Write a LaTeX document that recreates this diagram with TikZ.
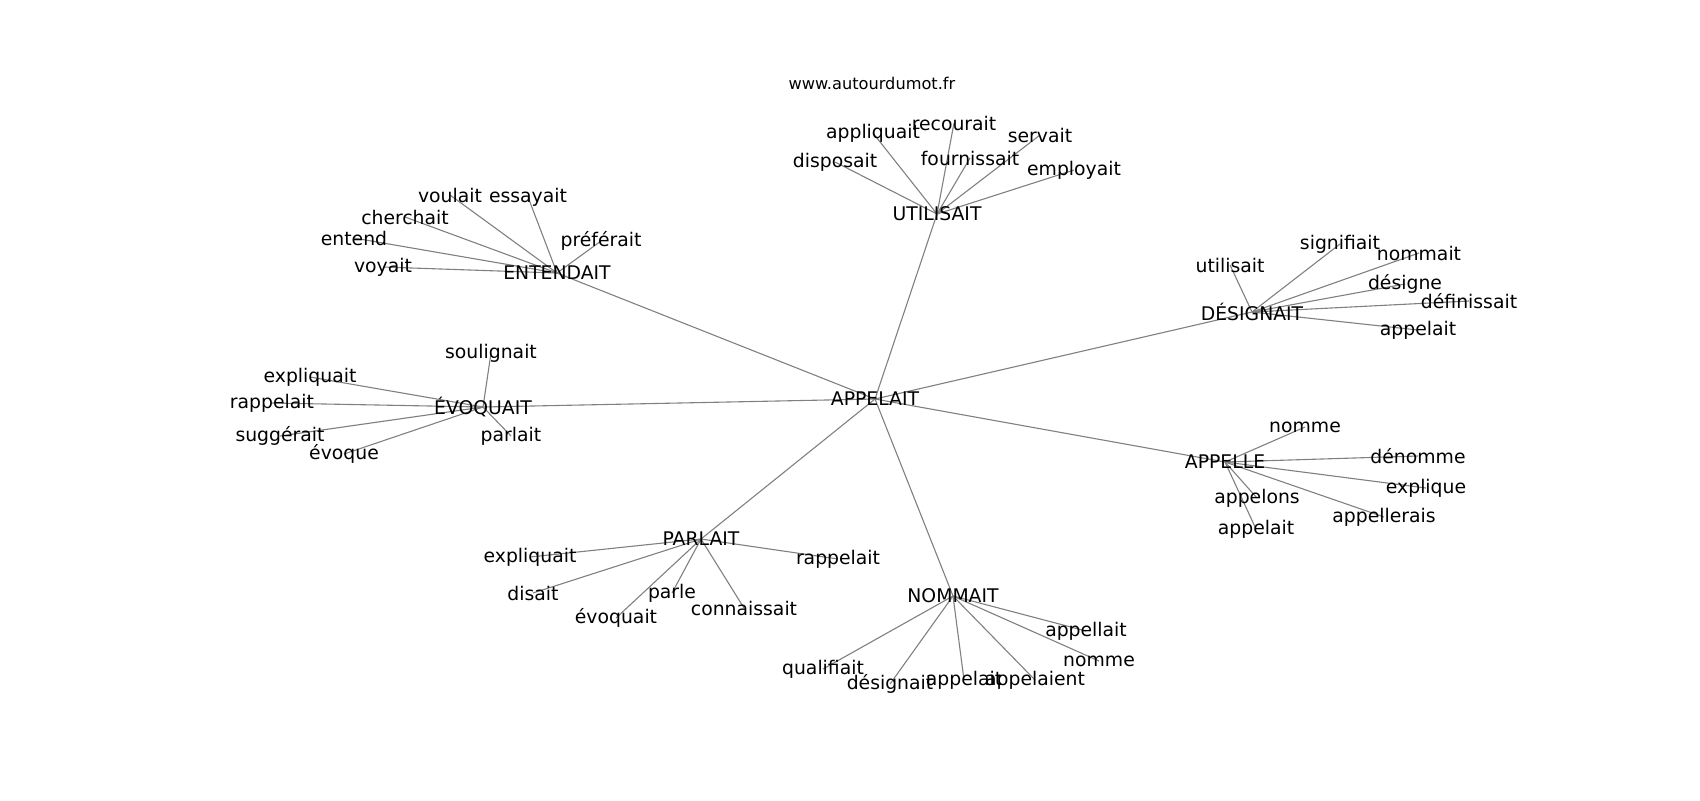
\documentclass[tikz,border=0pt]{standalone}
\usepackage{fontspec}
\setmainfont{DejaVu Sans}
\usetikzlibrary{backgrounds}

\begin{document}
\begin{tikzpicture}[x=0.5pt,y=-0.5pt]
\tikzstyle{every node}=[inner sep=0pt,text=black,font=\fontsize{9.4}{11}\selectfont]
\tikzstyle{link}=[draw=gray,line width=0.55pt]
\useasboundingbox (0,0) rectangle (1700,800);

\node (web) at (872,83) {\fontsize{8.1}{10}\selectfont www.autourdumot.fr};

% centre and hubs
\node (APP) at (875,399) {APPELAIT};
\node (UTI) at (937,214) {UTILISAIT};
\node (ENT) at (557,273) {ENTENDAIT};
\node (EVO) at (483,407) {ÉVOQUAIT};
\node (PAR) at (701,539) {PARLAIT};
\node (NOM) at (953,596) {NOMMAIT};
\node (APL) at (1225,462) {APPELLE};
\node (DES) at (1252,312) {DÉSIGNAIT};

% UTILISAIT
\node (uti1) at (873,133) {appliquait};
\node (uti2) at (954,123) {recourait};
\node (uti3) at (1040,135) {servait};
\node (uti4) at (970,158) {fournissait};
\node (uti5) at (835,162) {disposait};
\node (uti6) at (1074,170) {employait};

% ENTENDAIT
\node (ent1) at (450,195) {voulait};
\node (ent2) at (528,197) {essayait};
\node (ent3) at (405,217) {cherchait};
\node (ent4) at (354,238) {entend};
\node (ent5) at (383,267) {voyait};
\node (ent6) at (601,241) {préférait};

% EVOQUAIT
\node (evo1) at (491,353) {soulignait};
\node (evo2) at (310,377) {expliquait};
\node (evo3) at (272,403) {rappelait};
\node (evo4) at (280,436) {suggérait};
\node (evo5) at (344,454) {évoque};
\node (evo6) at (511,436) {parlait};

% PARLAIT
\node (par1) at (530,557) {expliquait};
\node (par2) at (838,559) {rappelait};
\node (par3) at (533,593) {disait};
\node (par4) at (672,593) {parle};
\node (par5) at (616,618) {évoquait};
\node (par6) at (744,608) {connaissait};

% NOMMAIT
\node (nom1) at (1086,631) {appellait};
\node (nom2) at (1099,661) {nomme};
\node (nom3) at (823,669) {qualifiait};
\node (nom4) at (890,684) {désignait};
\node (nom5) at (964,680) {appelait};
\node (nom6) at (1035,680) {appelaient};

% APPELLE
\node (apl1) at (1305,427) {nomme};
\node (apl2) at (1418,456) {dénomme};
\node (apl3) at (1426,488) {explique};
\node (apl4) at (1257,498) {appelons};
\node (apl5) at (1384,517) {appellerais};
\node (apl6) at (1256,529) {appelait};

% DESIGNAIT
\node (des1) at (1230,265) {utilisait};
\node (des2) at (1340,244) {signifiait};
\node (des3) at (1419,253) {nommait};
\node (des4) at (1405,284) {désigne};
\node (des5) at (1469,301) {définissait};
\node (des6) at (1418,330) {appelait};

\begin{scope}[on background layer]
\path[link]
(APP.center) edge (UTI.center)
             edge (ENT.center)
             edge (EVO.center)
             edge (PAR.center)
             edge (NOM.center)
             edge (APL.center)
             edge (DES.center);
\foreach \hub/\leaf in {UTI/uti,ENT/ent,EVO/evo,PAR/par,NOM/nom,APL/apl,DES/des}
  \foreach \i in {1,...,6}
    \path[link] (\hub.center) edge (\leaf\i.center);
\end{scope}
\end{tikzpicture}
\end{document}
